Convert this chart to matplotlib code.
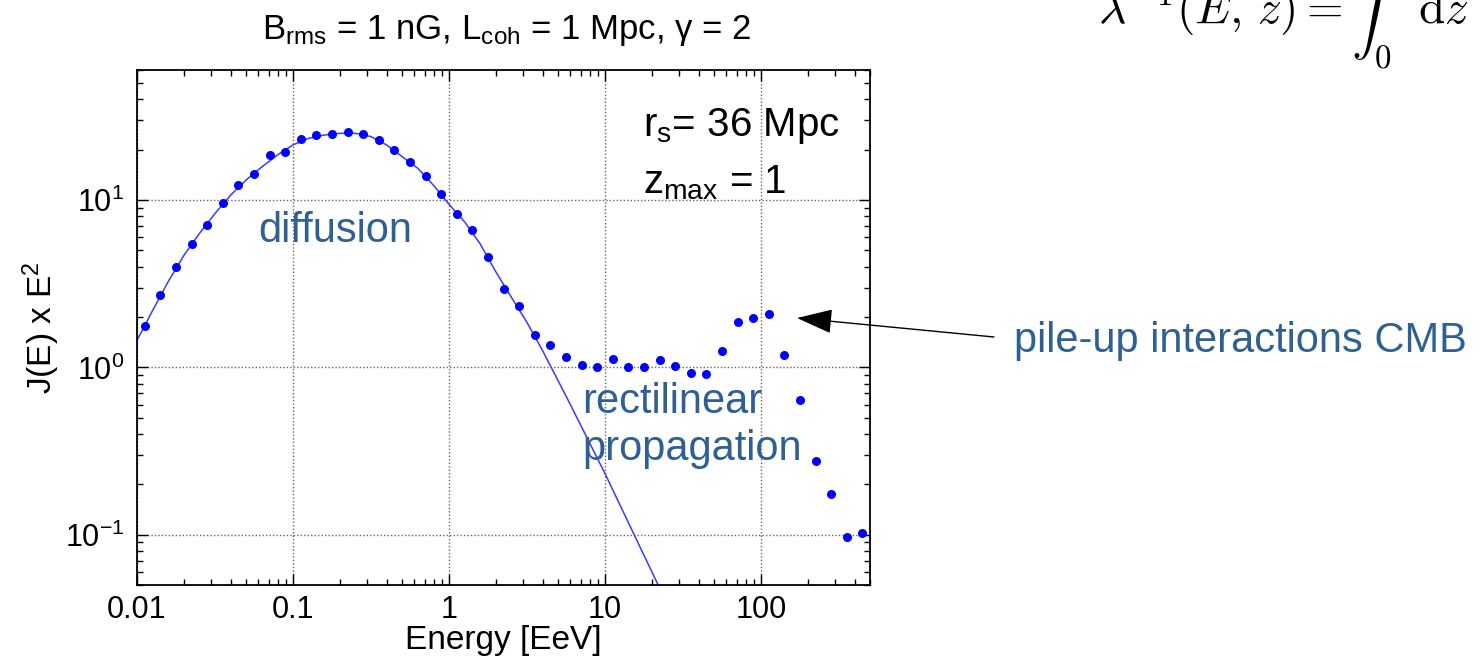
import matplotlib
matplotlib.use("Agg")
import matplotlib.pyplot as plt
from matplotlib.ticker import LogLocator, NullFormatter, FixedLocator, FixedFormatter

plt.rcParams['font.family'] = ['Liberation Sans', 'DejaVu Sans']
plt.rcParams['mathtext.fontset'] = 'custom'
plt.rcParams['mathtext.rm'] = 'Liberation Sans'
plt.rcParams['mathtext.it'] = 'Liberation Sans:italic'
plt.rcParams['mathtext.default'] = 'regular'

# simulated spectrum (points), EeV vs J(E) x E^2
energy = [0.0112, 0.0141, 0.0178, 0.0224, 0.0282, 0.0355, 0.0447, 0.0562, 0.0708, 0.0891,
          0.112, 0.141, 0.178, 0.224, 0.282, 0.355, 0.447, 0.562, 0.708, 0.891,
          1.12, 1.41, 1.78, 2.24, 2.82, 3.55, 4.47, 5.62, 7.08, 8.91,
          11.2, 14.1, 17.8, 22.4, 28.2, 35.5, 44.7, 56.2, 70.8, 89.1,
          112, 141, 178, 224, 282, 355, 447]
flux = [1.78, 2.70, 3.97, 5.45, 7.15, 9.6, 12.3, 14.3, 18.6, 19.5,
        23.1, 24.5, 24.7, 25.7, 24.8, 22.8, 19.9, 16.9, 14.0, 10.9,
        8.3, 6.6, 4.56, 2.96, 2.32, 1.56, 1.37, 1.15, 1.04, 1.00,
        1.12, 1.00, 1.00, 1.10, 1.02, 0.93, 0.91, 1.25, 1.88, 1.98,
        2.10, 1.18, 0.64, 0.275, 0.174, 0.097, 0.103]

# diffusion curve (line)
line_energy = [0.0100, 0.0126, 0.0158, 0.0200, 0.0251, 0.0316, 0.0398, 0.0501, 0.0631, 0.0794,
               0.100, 0.126, 0.158, 0.200, 0.251, 0.316, 0.398, 0.501, 0.631, 0.794,
               1.00, 1.26, 1.58, 2.00, 2.51, 3.16, 3.98, 5.62, 10.0, 21.9]
line_flux = [1.45, 2.19, 3.24, 4.68, 6.31, 8.32, 10.7, 13.2, 15.8, 18.6,
             21.4, 23.4, 24.5, 25.1, 25.1, 24.0, 21.4, 18.2, 15.5, 12.3,
             9.44, 7.41, 5.50, 3.72, 2.63, 1.86, 1.26, 0.676, 0.232, 0.0501]

x_ticks = [0.01, 0.1, 1, 10, 100]
x_labels = ["0.01", "0.1", "1", "10", "100"]

W, H = 1483, 667
fig = plt.figure(figsize=(W / 100, H / 100), dpi=100)
ax = fig.add_axes([137 / W, 1 - 585 / H, (870 - 137) / W, (585 - 70) / H])

ax.plot(line_energy, line_flux, color="#3a3aff", lw=1.1, zorder=2)
ax.plot(energy, flux, "o", color="#0000ff", ms=6.5, mec="none", zorder=3)

ax.set_xscale("log")
ax.set_yscale("log")
ax.set_xlim(0.01, 500)
ax.set_ylim(0.05, 60)

ax.xaxis.set_major_locator(FixedLocator(x_ticks))
ax.xaxis.set_major_formatter(FixedFormatter(x_labels))
ax.xaxis.set_minor_locator(LogLocator(base=10, subs=range(2, 10), numticks=20))
ax.xaxis.set_minor_formatter(NullFormatter())
ax.yaxis.set_minor_locator(LogLocator(base=10, subs=range(2, 10), numticks=20))
ax.yaxis.set_minor_formatter(NullFormatter())

ax.tick_params(which="both", direction="in", top=True, right=True, width=1.0)
ax.tick_params(which="major", length=8, labelsize=22)
ax.tick_params(which="minor", length=4.5)
ax.tick_params(axis="x", pad=7)
ax.tick_params(axis="y", pad=9)
for s in ax.spines.values():
    s.set_linewidth(1.3)

ax.grid(True, which="major", ls=(0, (1, 1.5)), color="#666666", lw=1.0)

ax.set_xlabel("Energy [EeV]", fontsize=24, labelpad=0)
ax.set_ylabel("J(E) x E$^{2}$", fontsize=24, labelpad=2)

def fx(px):
    return px / W

def fy(py):
    return 1 - py / H

fig.text(fx(507), fy(30), r"B$_{rms}$ = 1 nG, L$_{coh}$ = 1 Mpc, $\gamma$ = 2",
         ha="center", va="center", fontsize=25)

fig.text(fx(643), fy(136), r"r$_{s}$= 36 Mpc", fontsize=29, va="baseline")
fig.text(fx(643), fy(193), r"z$_{max}$ = 1", fontsize=29, va="baseline")

blue = "#2e6096"
fig.text(fx(258), fy(242), "diffusion", fontsize=30, color=blue, va="baseline")
fig.text(fx(582), fy(413), "rectilinear", fontsize=30, color=blue, va="baseline")
fig.text(fx(582), fy(460), "propagation", fontsize=30, color=blue, va="baseline")
fig.text(fx(1014), fy(352), "pile-up interactions CMB", fontsize=30, color=blue, va="baseline")

fig.add_artist(matplotlib.patches.FancyArrowPatch(
    (fx(994), fy(337)), (fx(797), fy(318)), transform=fig.transFigure,
    arrowstyle="-|>,head_length=1.6,head_width=0.55", mutation_scale=14,
    color="black", lw=1.0, shrinkA=0, shrinkB=0))

# formula at top right, partly cut by the top edge
fig.text(fx(1098), fy(23),
         r"$\mathit{\lambda}^{-1}(\mathit{E},\, \mathit{z}) = \mathrm{\int}_{0}\ \ \mathrm{d}\mathit{z}$",
         fontsize=34, va="baseline", family="cmr10", math_fontfamily="cm")

fig.savefig("out.png", dpi=100)
